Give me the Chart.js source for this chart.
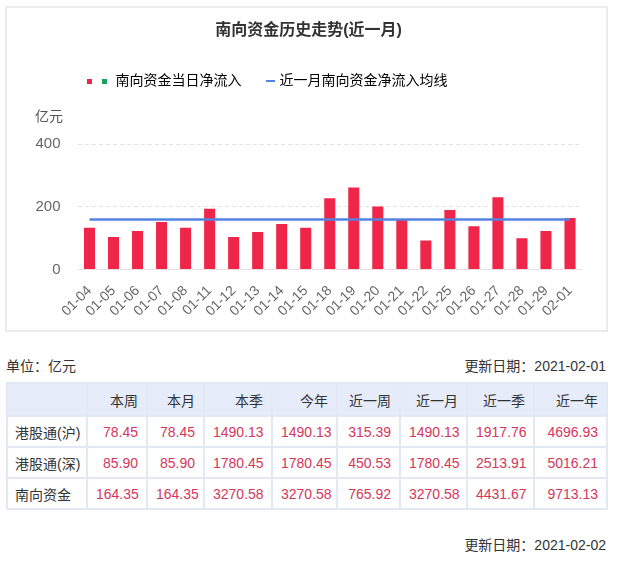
<!DOCTYPE html>
<html lang="zh-CN">
<head>
<meta charset="utf-8">
<title>南向资金历史走势(近一月)</title>
<script src="https://cdn.jsdelivr.net/npm/chart.js@4.4.1/dist/chart.umd.min.js"></script>
<style>
  html, body { margin: 0; padding: 0; background: #fff; }
  body {
    width: 620px; height: 564px; position: relative; overflow: hidden;
    font-family: 'Liberation Sans', 'Noto Sans CJK SC', sans-serif; color: #333;
  }
  .chart-box {
    position: absolute; left: 5px; top: 6px;
    width: 599px; height: 322px; border: 2px solid #ebebeb;
  }
  .chart-box canvas { display: block; }
  .meta { position: absolute; left: 6px; width: 600px; font-size: 14px; line-height: 20px; }
  .meta .right { float: right; }
  table.flow {
    position: absolute; left: 6px; top: 382px; width: 600px;
    border-collapse: collapse; table-layout: fixed; font-size: 14px;
  }
  table.flow td, table.flow th {
    border: 2px solid #e3e8f5; padding: 0 8px; text-align: right;
    font-weight: normal; white-space: nowrap;
  }
  table.flow thead tr { height: 33px; background: #e6ecf9; }
  table.flow tbody tr { height: 31px; }
  table.flow td.name { text-align: left; padding-left: 7px; color: #333; }
  table.flow td.num { color: #d4375b; }
</style>
</head>
<body>

<div class="chart-box"><canvas id="flowChart" width="599" height="322"></canvas></div>

<div class="meta" style="top:356px">单位：亿元<span class="right">更新日期：2021-02-01</span></div>
<table class="flow" id="flowTable"></table>
<div class="meta" style="top:535px"><span class="right">更新日期：2021-02-02</span></div>

<script>
/* ── data ── */
const dates = ['01-04','01-05','01-06','01-07','01-08','01-11','01-12','01-13','01-14','01-15',
               '01-18','01-19','01-20','01-21','01-22','01-25','01-26','01-27','01-28','01-29','02-01'];
const netInflow = [133, 104, 123, 152, 133, 194, 104, 120, 145, 133,
                   228, 262, 201, 158, 93, 190, 138, 231, 100, 123, 164.35];
const monthAvg = [160, 160, 160, 160, 160, 160, 160, 160, 160, 160,
                  160, 160, 160, 160, 160, 160, 160, 160, 160, 160, 160];
const yTicks = [0, 200, 400];

const periodCols = ['本周', '本月', '本季', '今年', '近一周', '近一月', '近一季', '近一年'];
const rowNames = ['港股通(沪)', '港股通(深)', '南向资金'];
const hkShanghai = [78.45, 78.45, 1490.13, 1490.13, 315.39, 1490.13, 1917.76, 4696.93];
const hkShenzhen = [85.90, 85.90, 1780.45, 1780.45, 450.53, 1780.45, 2513.91, 5016.21];
const southbound = [164.35, 164.35, 3270.58, 3270.58, 765.92, 3270.58, 4431.67, 9713.13];
const colWidths = [80, 60, 57, 68, 65, 63, 67, 67, 73];

const RED = '#f0254a';
const GREEN = '#1aa35e';
const BLUE = '#5283e0';

/* ── legend swatches ── */
function swatch(w, h, draw) {
  const c = document.createElement('canvas');
  c.width = w; c.height = h;
  draw(c.getContext('2d'));
  return c;
}
// bar item: red + green squares, sitting left of the label text
const barSwatch = swatch(40, 5, g => {
  g.fillStyle = RED;   g.fillRect(0, 0, 5, 5);
  g.fillStyle = GREEN; g.fillRect(15, 0, 5, 5);
});
const lineSwatch = swatch(9, 2, g => {
  g.fillStyle = BLUE; g.fillRect(0, 0, 9, 2);
});

/* ── chart ── */
Chart.defaults.font.family = "'Liberation Sans', 'Noto Sans CJK SC', sans-serif";
Chart.defaults.color = '#666';

function initChart() {
  const ctx = document.getElementById('flowChart');
  return new Chart(ctx, {
    data: {
      labels: dates,
      datasets: [
        {
          type: 'line',
          label: '近一月南向资金净流入均线',
          data: monthAvg,
          borderColor: BLUE,
          borderWidth: 2.5,
          pointRadius: 0,
          order: 0,
        },
        {
          type: 'bar',
          label: '南向资金当日净流入',
          data: netInflow,
          backgroundColor: netInflow.map(v => v >= 0 ? RED : GREEN),
          barPercentage: 0.46,
          categoryPercentage: 1,
          order: 1,
        },
      ],
    },
    options: {
      responsive: false,
      animation: false,
      layout: { padding: { left: 28, right: 24, top: 0, bottom: 10.5 } },
      plugins: {
        tooltip: { enabled: false },
        title: {
          display: true,
          text: '南向资金历史走势(近一月)',
          color: '#333',
          font: { size: 16, weight: 'bold' },
          padding: { top: 13, bottom: 5.8 },
        },
        legend: {
          position: 'top',
          align: 'start',
          fullSize: false,
          weight: 1800,
          labels: {
            usePointStyle: true,
            pointStyleWidth: 3,
            padding: 28,
            color: '#555',
            font: { size: 14 },
            generateLabels: () => [
              { text: '南向资金当日净流入', pointStyle: barSwatch, fillStyle: 'transparent',
                strokeStyle: 'transparent', lineWidth: 0, hidden: false, datasetIndex: 1 },
              { text: '近一月南向资金净流入均线', pointStyle: lineSwatch, fillStyle: 'transparent',
                strokeStyle: 'transparent', lineWidth: 0, hidden: false, datasetIndex: 0 },
            ],
          },
        },
        subtitle: {
          display: true,
          text: '亿元',
          align: 'start',
          color: '#555',
          font: { size: 14, weight: 'normal' },
          padding: { top: 10.3, bottom: 19.2 },
        },
      },
      scales: {
        x: {
          grid: { display: false },
          border: { display: false },
          ticks: {
            autoSkip: false,
            minRotation: 45,
            maxRotation: 45,
            padding: 5,
            color: '#666',
            font: { size: 14 },
          },
          afterFit: s => { s.height = 50; },
        },
        y: {
          min: yTicks[0],
          max: yTicks[yTicks.length - 1],
          afterBuildTicks: s => { s.ticks = yTicks.map(v => ({ value: v })); },
          grid: {
            drawTicks: false,
            color: c => (c.tick && c.tick.value === 0) ? '#ecdfe2' : '#e2e2e2',
          },
          border: {
            display: false,
            dash: c => (c.tick && c.tick.value !== 0) ? [4, 3] : [],
          },
          ticks: { padding: 17, color: '#666', font: { size: 15 } },
          afterFit: s => { s.width = 42.5; },
        },
      },
    },
  });
}

/* ── table ── */
function renderTable() {
  const table = document.getElementById('flowTable');
  const series = [hkShanghai, hkShenzhen, southbound];
  let html = '<colgroup>' + colWidths.map(w => `<col style="width:${w}px">`).join('') + '</colgroup>';
  html += '<thead><tr><th></th>' + periodCols.map(c => `<th>${c}</th>`).join('') + '</tr></thead><tbody>';
  rowNames.forEach((name, i) => {
    html += `<tr><td class="name">${name}</td>` +
      series[i].map(v => `<td class="num">${v.toFixed(2)}</td>`).join('') + '</tr>';
  });
  table.innerHTML = html + '</tbody>';
}

initChart();
renderTable();
</script>
</body>
</html>
